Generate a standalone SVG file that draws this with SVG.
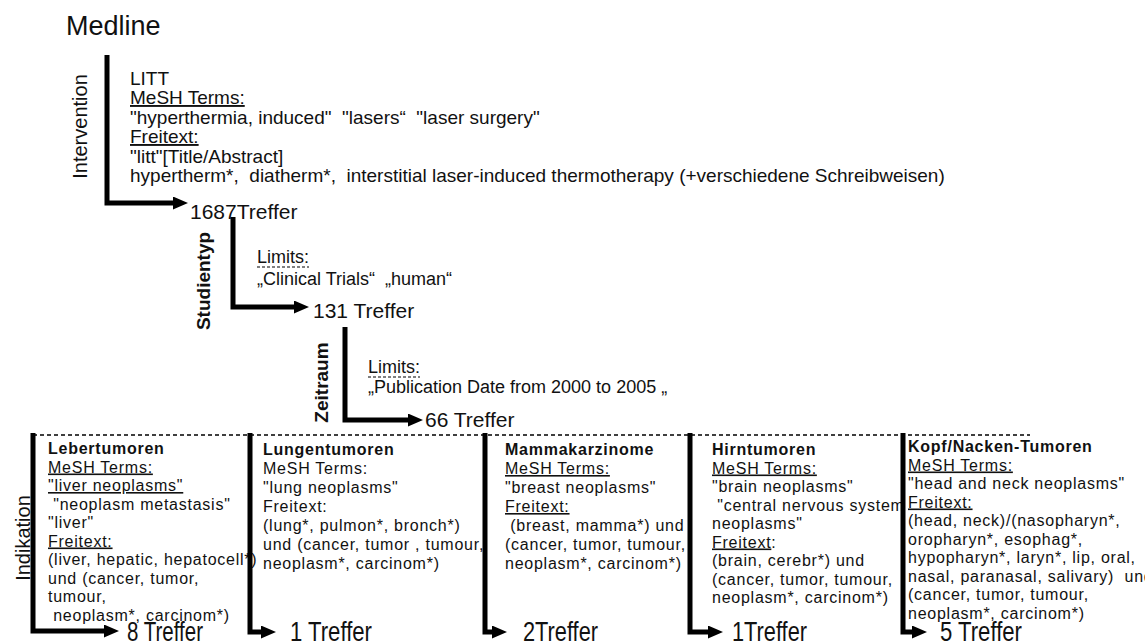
<svg xmlns="http://www.w3.org/2000/svg" width="1145" height="643" viewBox="0 0 1145 643">
<style>
text{font-family:"Liberation Sans",Arial,sans-serif;fill:#111;white-space:pre}
.title{font-size:27px}
.top{font-size:19px}
.lim{font-size:18px}
.hit{font-size:21px}
.hitb{font-size:28px}
.lab{font-size:20px}
.labb{font-size:19px;font-weight:bold}
.col{font-size:16px;letter-spacing:0.75px}
.b{font-weight:bold}
.u{text-decoration:underline}
.conn{fill:none;stroke:#000;stroke-width:5;stroke-linejoin:miter}
.dash{fill:none;stroke:#000;stroke-width:1.3;stroke-dasharray:4 3}
.dul{fill:none;stroke:#000;stroke-width:1.2;stroke-dasharray:3 2}
</style>
<defs>
<marker id="ah" markerUnits="userSpaceOnUse" markerWidth="15" markerHeight="13" refX="0" refY="6.5" orient="auto">
<path d="M0,0 L15,6.5 L0,13 z" fill="#000"/>
</marker>
</defs>

<text class="title" x="66" y="35">Medline</text>

<g id="intervention">
<text class="lab" transform="translate(87,126.5) rotate(-90)" text-anchor="middle">Intervention</text>
<text class="top" x="130" y="85">LITT</text>
<text class="top u" x="130" y="104">MeSH Terms:</text>
<text class="top" x="130" y="124" xml:space="preserve">"hyperthermia, induced"  "lasers“  "laser surgery"</text>
<text class="top u" x="130" y="143">Freitext:</text>
<text class="top" x="130" y="163">"litt"[Title/Abstract]</text>
<text class="top" x="130" y="182" xml:space="preserve">hypertherm*,  diatherm*,  interstitial laser-induced thermotherapy (+verschiedene Schreibweisen)</text>
</g>

<g id="hits1687"><text class="hit" x="190" y="219">1687Treffer</text></g>

<g id="studientyp">
<text class="labb" transform="translate(210,281) rotate(-90)" text-anchor="middle">Studientyp</text>
<text class="lim" x="257" y="263">Limits:</text>
<line class="dul" x1="257" y1="267" x2="309" y2="267"/>
<text class="lim" x="257" y="285" xml:space="preserve">„Clinical Trials“  „human“</text>
</g>

<g id="hits131"><text class="hit" x="313" y="318">131 Treffer</text></g>

<g id="zeitraum">
<text class="labb" transform="translate(328,382.5) rotate(-90)" text-anchor="middle">Zeitraum</text>
<text class="lim" x="368" y="373">Limits:</text>
<line class="dul" x1="368" y1="377" x2="420" y2="377"/>
<text class="lim" x="368" y="393">„Publication Date from 2000 to 2005 „</text>
</g>

<g id="hits66"><text class="hit" x="425" y="427">66 Treffer</text></g>

<g id="indikation">
<text class="lab" transform="translate(30,538) rotate(-90)" text-anchor="middle">Indikation</text>
<line class="dash" x1="33" y1="435" x2="1030" y2="435"/>
</g>

<g id="leber">
<text class="col b" x="48" y="454">Lebertumoren</text>
<text class="col u" x="48" y="472.5">MeSH Terms:</text>
<text class="col u" x="48" y="491">"liver neoplasms"</text>
<text class="col" x="48" y="509.5" xml:space="preserve"> "neoplasm metastasis"</text>
<text class="col" x="48" y="528">"liver"</text>
<text class="col u" x="48" y="546.5">Freitext:</text>
<text class="col" x="48" y="565">(liver, hepatic, hepatocell*)</text>
<text class="col" x="48" y="583.5">und (cancer, tumor,</text>
<text class="col" x="48" y="602">tumour,</text>
<text class="col" x="48" y="620.5" xml:space="preserve"> neoplasm*, carcinom*)</text>
<text class="hitb" x="127" y="641" textLength="76" lengthAdjust="spacingAndGlyphs">8 Treffer</text>
</g>

<g id="lunge">
<text class="col b" x="263" y="455">Lungentumoren</text>
<text class="col" x="263" y="474">MeSH Terms:</text>
<text class="col" x="263" y="493">"lung neoplasms"</text>
<text class="col" x="263" y="512">Freitext:</text>
<text class="col" x="263" y="531">(lung*, pulmon*, bronch*)</text>
<text class="col" x="263" y="550">und (cancer, tumor , tumour,</text>
<text class="col" x="263" y="569">neoplasm*, carcinom*)</text>
<text class="hitb" x="290" y="641" textLength="82" lengthAdjust="spacingAndGlyphs">1 Treffer</text>
</g>

<g id="mamma">
<text class="col b" x="505" y="455">Mammakarzinome</text>
<text class="col u" x="505" y="474">MeSH Terms:</text>
<text class="col" x="505" y="493">"breast neoplasms"</text>
<text class="col u" x="505" y="512">Freitext:</text>
<text class="col" x="505" y="531" xml:space="preserve"> (breast, mamma*) und</text>
<text class="col" x="505" y="550">(cancer, tumor, tumour,</text>
<text class="col" x="505" y="569">neoplasm*, carcinom*)</text>
<text class="hitb" x="523" y="641" textLength="75" lengthAdjust="spacingAndGlyphs">2Treffer</text>
</g>

<g id="hirn">
<text class="col b" x="712" y="455">Hirntumoren</text>
<text class="col u" x="712" y="473.5">MeSH Terms:</text>
<text class="col" x="712" y="492">"brain neoplasms"</text>
<text class="col" x="712" y="510.5" xml:space="preserve"> "central nervous system</text>
<text class="col" x="712" y="529">neoplasms"</text>
<text class="col" x="712" y="547.5"><tspan class="u">Freitext</tspan>:</text>
<text class="col" x="712" y="566">(brain, cerebr*) und</text>
<text class="col" x="712" y="584.5">(cancer, tumor, tumour,</text>
<text class="col" x="712" y="603">neoplasm*, carcinom*)</text>
<text class="hitb" x="732" y="641" textLength="75" lengthAdjust="spacingAndGlyphs">1Treffer</text>
</g>

<g id="kopf">
<text class="col b" x="908" y="452">Kopf/Nacken-Tumoren</text>
<text class="col u" x="908" y="470.5">MeSH Terms:</text>
<text class="col" x="908" y="489">"head and neck neoplasms"</text>
<text class="col u" x="908" y="507.5">Freitext:</text>
<text class="col" x="908" y="526">(head, neck)/(nasopharyn*,</text>
<text class="col" x="908" y="544.5">oropharyn*, esophag*,</text>
<text class="col" x="908" y="563">hypopharyn*, laryn*, lip, oral,</text>
<text class="col" x="908" y="581.5" xml:space="preserve">nasal, paranasal, salivary)  und</text>
<text class="col" x="908" y="600">(cancer, tumor, tumour,</text>
<text class="col" x="908" y="618.5">neoplasm*, carcinom*)</text>
<text class="hitb" x="940" y="641" textLength="82" lengthAdjust="spacingAndGlyphs">5 Treffer</text>
</g>

<g id="connectors">
<path class="conn" d="M107,55 V203 H173" marker-end="url(#ah)"/>
<path class="conn" d="M233,217 V307 H294" marker-end="url(#ah)"/>
<path class="conn" d="M345,327 V420 H408" marker-end="url(#ah)"/>
<path class="conn" d="M33,433 V631 H104" marker-end="url(#ah)"/>
<path class="conn" d="M250,433 V632 H261" marker-end="url(#ah)"/>
<path class="conn" d="M485,433 V632 H492" marker-end="url(#ah)"/>
<path class="conn" d="M690,433 V632 H708" marker-end="url(#ah)"/>
<path class="conn" d="M903,433 V632 H912" marker-end="url(#ah)"/>
</g>
</svg>
